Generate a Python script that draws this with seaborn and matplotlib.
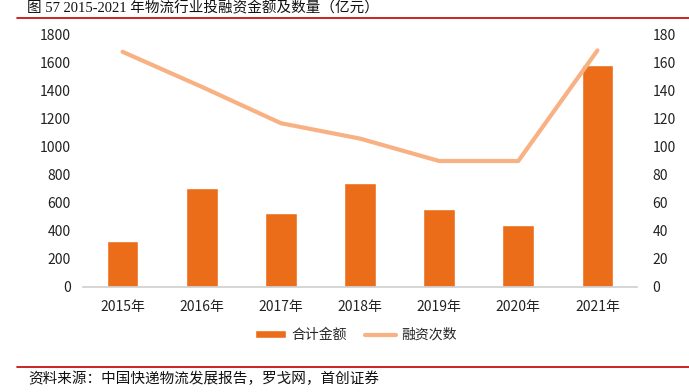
import pandas as pd
import matplotlib.pyplot as plt
import seaborn as sns

sns.set_theme(style='white')
plt.rcParams['font.family'] = ['Noto Sans CJK SC', 'DejaVu Sans']

# data
years = ["2015年", "2016年", "2017年", "2018年", "2019年", "2020年", "2021年"]
amount = [329, 707, 529, 745, 555, 443, 1586]   # 合计金额 (亿元)
deals = [168, 143, 117, 106, 90, 90, 169]       # 融资次数

df = pd.DataFrame({"year": years, "amount": amount, "deals": deals})

bar_color = "#EC6D19"
line_color = "#F8B182"

fig = plt.figure(figsize=(6.89, 3.92), dpi=100)
ax = fig.add_axes([83 / 689, 1 - 287 / 392, 554 / 689, 252 / 392])

sns.barplot(data=df, x="year", y="amount", color=bar_color, width=0.4,
            saturation=1, ax=ax, label="合计金额")
ax2 = ax.twinx()
sns.lineplot(x=list(range(len(years))), y=df["deals"], color=line_color,
             linewidth=3, ax=ax2, label="融资次数", legend=False)

ax.set_ylim(0, 1800)
ax.set_yticks(range(0, 1801, 200))
ax2.set_ylim(0, 180)
ax2.set_yticks(range(0, 181, 20))
ax.set_xlim(-0.5, 6.5)
ax.set_xlabel("")
ax.set_ylabel("")
ax2.set_ylabel("")

for a in (ax, ax2):
    for s in a.spines.values():
        s.set_visible(False)
    a.tick_params(length=0, labelsize=10, colors="#222222")
ax.spines["bottom"].set_visible(True)
ax.spines["bottom"].set_color("#D0D0D0")
ax.tick_params(axis="y", pad=9)
ax2.tick_params(axis="y", pad=11)
ax.tick_params(axis="x", pad=9)

# legend below the plot
h1, l1 = ax.get_legend_handles_labels()
h2, l2 = ax2.get_legend_handles_labels()
if ax.get_legend():
    ax.get_legend().remove()
fig.legend(h1 + h2, l1 + l2, loc="center", bbox_to_anchor=(356 / 689, 1 - 335 / 392),
           ncol=2, frameon=False, fontsize=10, handlelength=2.2, columnspacing=1.3,
           handletextpad=0.4, handleheight=0.5)

# title and source
fig.text(27 / 689, 1 - 8 / 392, "图 57 2015-2021 年物流行业投融资金额及数量（亿元）",
         fontsize=10.5, va="center", ha="left", color="#111111",
         family=["Liberation Serif", "Noto Sans CJK SC"])
fig.add_artist(plt.Line2D([17 / 689, 1.0], [1 - 17.5 / 392] * 2, color="#C00000", lw=1.2))
fig.add_artist(plt.Line2D([17 / 689, 1.0], [1 - 367 / 392] * 2, color="#C00000", lw=1.2))
fig.text(28 / 689, 1 - 379 / 392, "资料来源：中国快递物流发展报告，罗戈网，首创证券",
         fontsize=10.5, va="center", ha="left", color="#111111", style="italic")

fig.savefig("out.png", dpi=100)
